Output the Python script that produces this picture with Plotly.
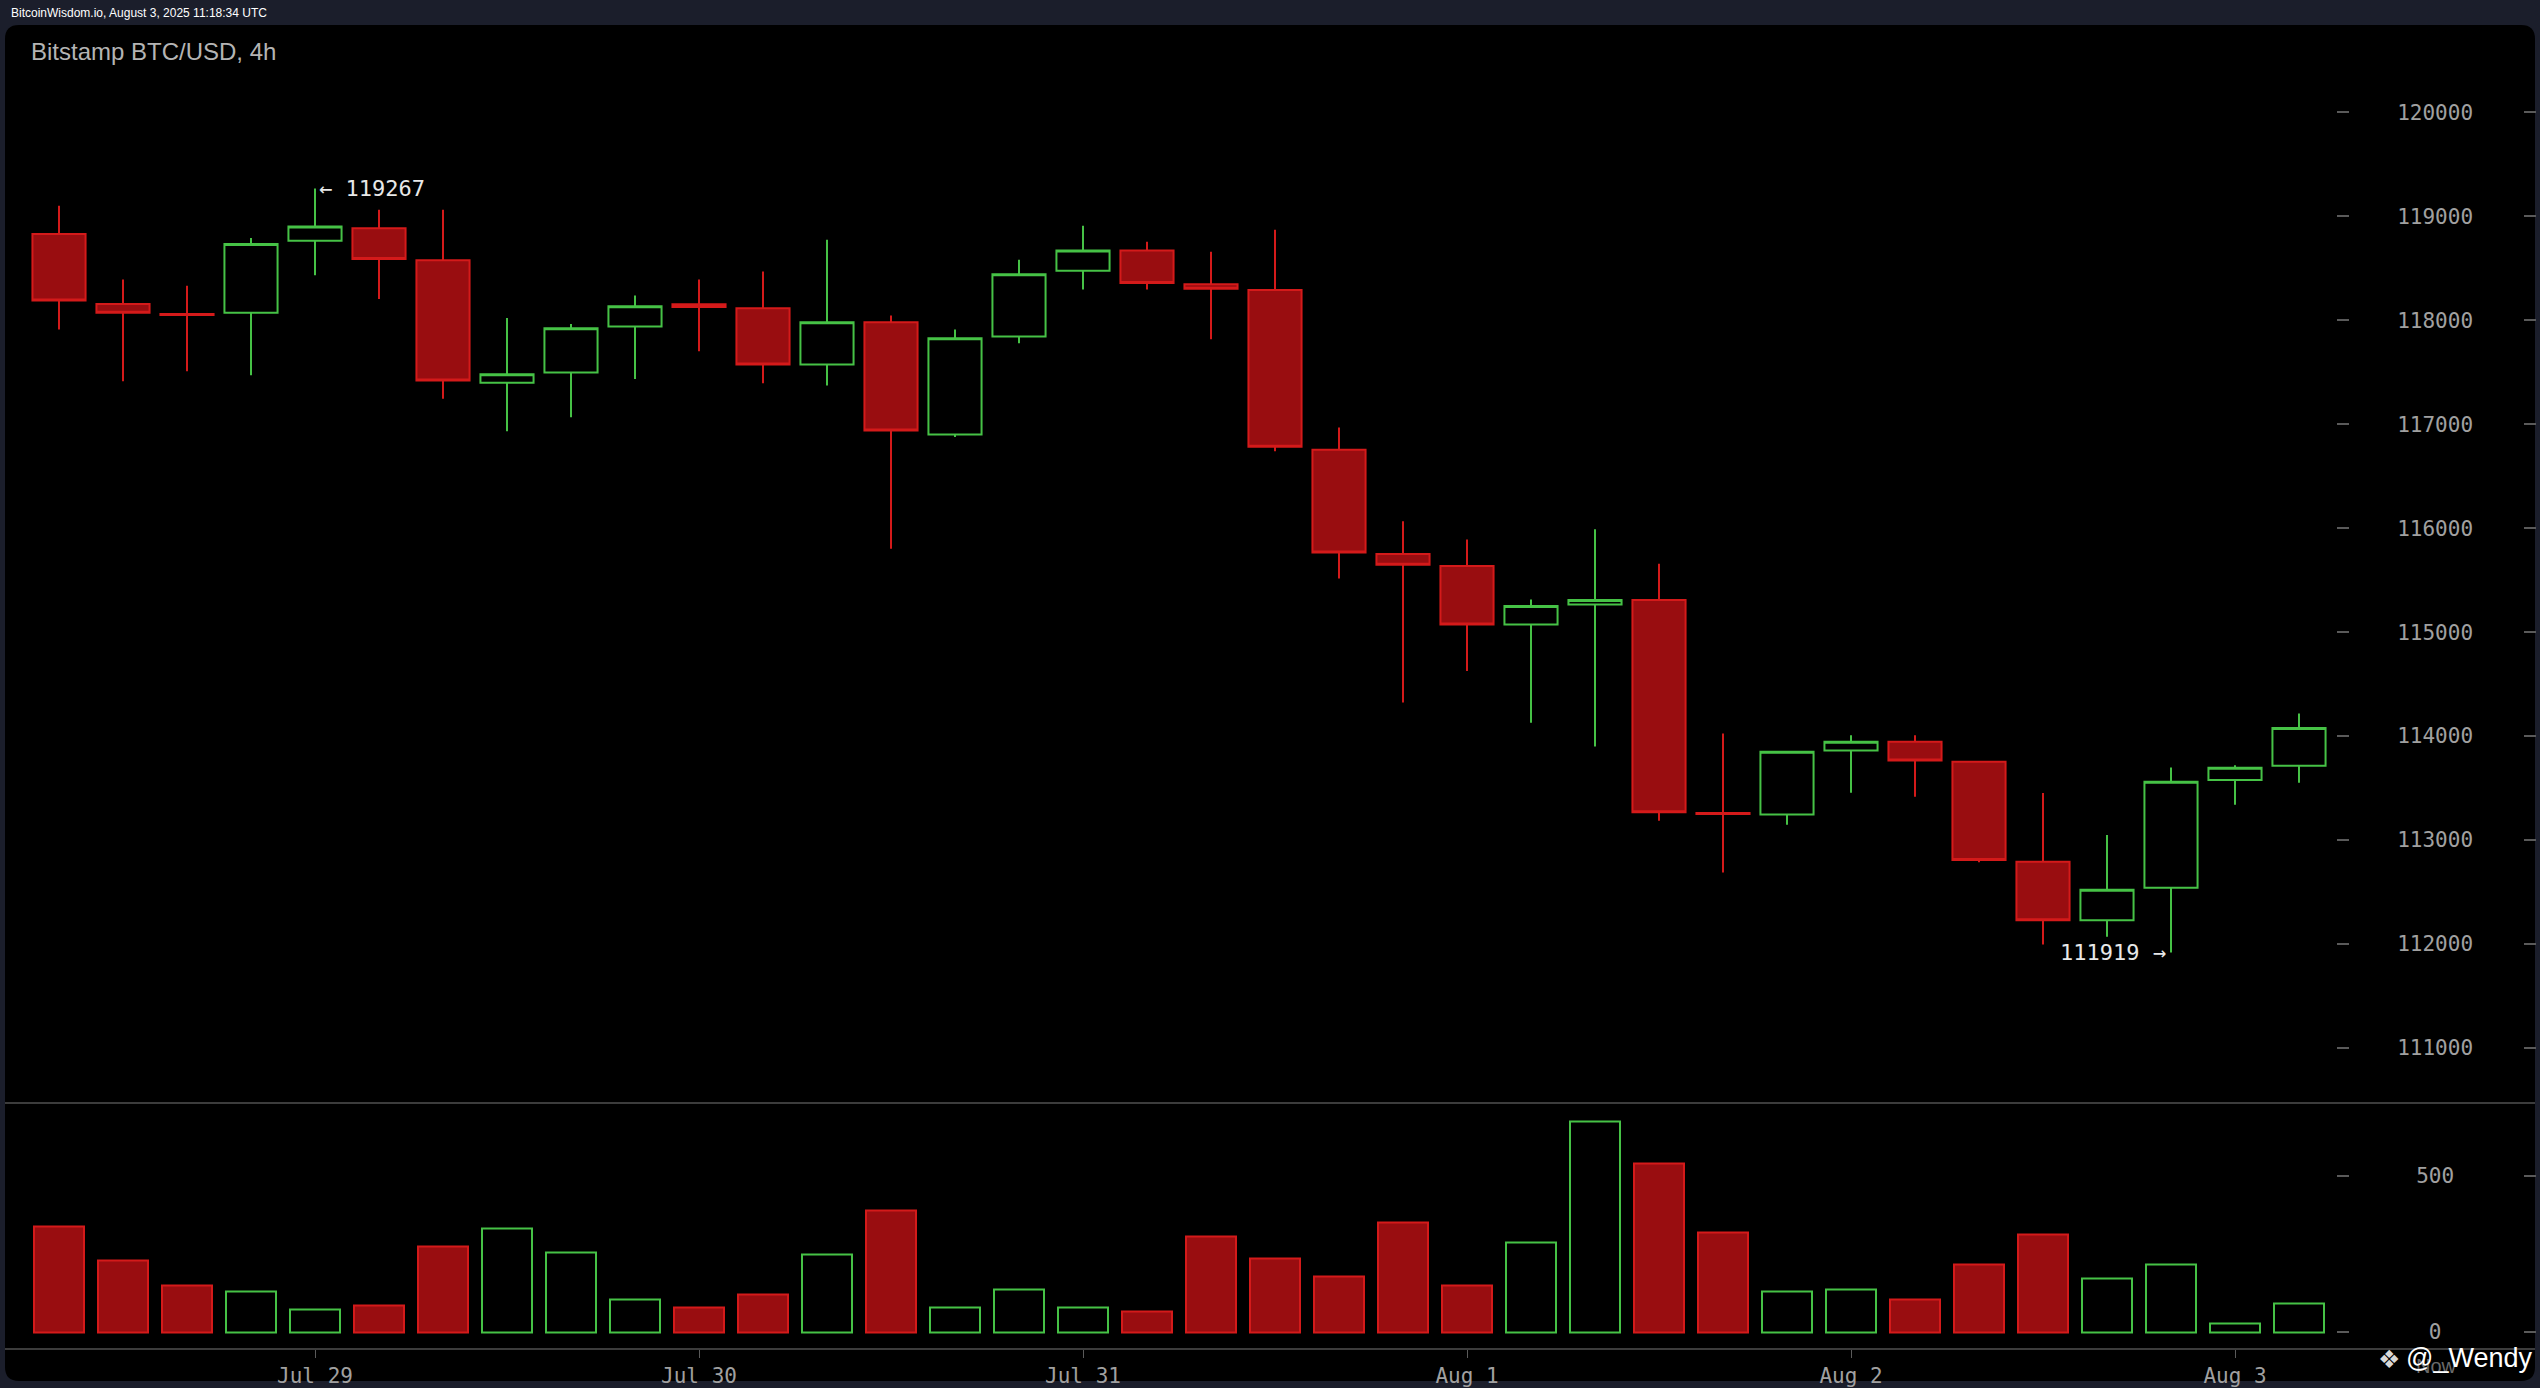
import plotly.graph_objects as go
from datetime import datetime, timedelta

# ---------------- data ----------------
start_time = datetime(2025, 7, 28, 8)      # first 4h candle
candle_hours = 4

opens = [118830, 118157, 118060, 118071, 118765, 118884, 118576, 117398, 117497, 117939,
         118154, 118115, 117574, 117980, 116901, 117843, 118477, 118672, 118346, 118292,
         116754, 115751, 115636, 115073, 115265, 115309, 113260, 113247, 113862, 113945,
         113753, 112792, 112229, 112542, 113577, 113714]
highs = [119102, 118391, 118333, 118791, 119267, 119063, 119063, 118022, 117965, 118237,
         118391, 118468, 118775, 118045, 117910, 118583, 118910, 118756, 118660, 118871,
         116969, 116066, 115890, 115313, 115989, 115659, 114026, 113860, 114009, 114009,
         113760, 113452, 113049, 113699, 113720, 114218]
lows = [117910, 117414, 117510, 117471, 118432, 118205, 117244, 116933, 117068, 117436,
        117702, 117394, 117372, 115803, 116876, 117779, 118297, 118297, 117817, 116741,
        115515, 114324, 114627, 114128, 113901, 113186, 112687, 113148, 113455, 113417,
        112786, 111995, 112071, 111919, 113340, 113551]
closes = [118189, 118071, 118050, 118734, 118903, 118589, 117420, 117481, 117923, 118134,
          118128, 117574, 117980, 116940, 117827, 118442, 118672, 118359, 118304, 116783,
          115765, 115649, 115073, 115252, 115309, 113267, 113250, 113849, 113945, 113766,
          112808, 112229, 112523, 113561, 113695, 114077]
volumes = [338, 230, 148, 129, 72, 84, 274, 331, 255, 103,
           78, 122, 249, 388, 78, 135, 78, 65, 306, 236,
           179, 350, 148, 287, 673, 540, 319, 129, 135, 103,
           217, 312, 173, 217, 27, 91]

price_ticks = [111000, 112000, 113000, 114000, 115000, 116000, 117000, 118000, 119000, 120000]
volume_ticks = [0, 500]
volume_tick_text = ["\u00a00", "500"]
date_ticks = [datetime(2025, 7, 29), datetime(2025, 7, 30), datetime(2025, 7, 31),
              datetime(2025, 8, 1), datetime(2025, 8, 2), datetime(2025, 8, 3)]
date_tick_text = ["Jul 29", "Jul 30", "Jul 31", "Aug 1", "Aug 2", "Aug 3"]

header_text = "BitcoinWisdom.io, August 3, 2025 11:18:34 UTC"
title_text = "Bitstamp BTC/USD, 4h"

# ---------------- styling ----------------
W, H = 2540, 1388
def px(x):
    return x / W
def py(y):
    return 1 - y / H

GREEN = "#46c246"
RED_LINE = "#d41a1a"
RED_FILL = "#990d10"
AXIS_GRAY = "#3c3c3c"
TICK_GRAY = "#5a5a5a"
LABEL_GRAY = "#a0a0a0"
MONO = "DejaVu Sans Mono"
SANS = "Liberation Sans, Arial, sans-serif"

step = timedelta(hours=candle_hours)
times = [start_time + i * step for i in range(len(opens))]
is_up = [c > o for o, c in zip(opens, closes)]

# x range so that one 4h step spans ~64 px and the frame runs from x=5 to x=2535
spacing_px = 64.0
first_center_px = 59.0
x_left = start_time - timedelta(hours=candle_hours * (first_center_px - 5) / spacing_px)
x_right = start_time + timedelta(hours=candle_hours * (2535 - first_center_px) / spacing_px)

# price axis: 120000 at y=112.5 px, 111000 at y=1049.5 px
ppx = (1049.5 - 112.5) / 9000.0
price_top = 120000 + (112.5 - 25) / ppx
price_bottom = 120000 - (1104 - 112.5) / ppx
# volume axis: 0 at y=1334 px, 500 at y=1177.5 px
vpx = (1334 - 1177.5) / 500.0
vol_bottom = -(1350 - 1334) / vpx
vol_top = (1334 - 1104) / vpx

fig = go.Figure()

fig.add_trace(go.Candlestick(
    x=times, open=opens, high=highs, low=lows, close=closes,
    xaxis="x2", yaxis="y",
    increasing=dict(line=dict(color=GREEN, width=2), fillcolor="#000000"),
    decreasing=dict(line=dict(color=RED_LINE, width=2), fillcolor=RED_FILL),
    whiskerwidth=0, showlegend=False, hoverinfo="skip",
))

fig.add_trace(go.Bar(
    x=times, y=volumes, xaxis="x", yaxis="y2",
    width=[0.79 * candle_hours * 3600 * 1000] * len(times),
    marker=dict(color=["#000000" if u else RED_FILL for u in is_up],
                line=dict(color=[GREEN if u else RED_LINE for u in is_up], width=2)),
    showlegend=False, hoverinfo="skip",
))

# invisible helpers so the mirrored tick axes on the far right get drawn
fig.add_trace(go.Scatter(x=times, y=closes, xaxis="x2", yaxis="y3", mode="markers",
                         marker=dict(opacity=0), showlegend=False, hoverinfo="skip"))
fig.add_trace(go.Scatter(x=times, y=volumes, xaxis="x", yaxis="y4", mode="markers",
                         marker=dict(opacity=0), showlegend=False, hoverinfo="skip"))

i_hi = highs.index(max(highs))
i_lo = lows.index(min(lows))

annotations = [
    dict(x=px(9), y=py(13), xref="paper", yref="paper", text=header_text, showarrow=False,
         xanchor="left", yanchor="middle", font=dict(family=SANS, size=12, color="#ffffff")),
    dict(x=px(29), y=py(52), xref="paper", yref="paper", text=title_text, showarrow=False,
         xanchor="left", yanchor="middle", font=dict(family=SANS, size=24, color="#b4b4b4")),
    dict(x=times[i_hi], y=highs[i_hi], xref="x2", yref="y", text="\u2190 %d" % highs[i_hi],
         showarrow=False, xanchor="left", yanchor="middle", xshift=2,
         font=dict(family=MONO, size=22, color="#e8e8e8")),
    dict(x=times[i_lo], y=lows[i_lo], xref="x2", yref="y", text="%d \u2192" % lows[i_lo],
         showarrow=False, xanchor="right", yanchor="middle", xshift=-3,
         font=dict(family=MONO, size=22, color="#e8e8e8")),
    dict(x=px(2436), y=py(1368), xref="paper", yref="paper", text="Now", showarrow=False,
         xanchor="center", yanchor="middle", font=dict(family=SANS, size=20, color="#6a6a6a")),
    dict(x=px(2389), y=py(1361), xref="paper", yref="paper", text="\u2756", showarrow=False,
         xanchor="center", yanchor="middle", font=dict(family="DejaVu Sans", size=25, color="#d8d8d8")),
    dict(x=px(2534), y=py(1360), xref="paper", yref="paper", text="@_Wendy", showarrow=False,
         xanchor="right", yanchor="middle", font=dict(family=SANS, size=27, color="#ffffff")),
]

r = 14
L, T, R, B = 5, 25, 2535, 1383
frame_path = (
    f"M {px(L + r)},{py(T)} L {px(R - r)},{py(T)} Q {px(R)},{py(T)} {px(R)},{py(T + r)} "
    f"L {px(R)},{py(B - r)} Q {px(R)},{py(B)} {px(R - r)},{py(B)} "
    f"L {px(L + r)},{py(B)} Q {px(L)},{py(B)} {px(L)},{py(B - r)} "
    f"L {px(L)},{py(T + r)} Q {px(L)},{py(T)} {px(L + r)},{py(T)} Z"
)

axis_common = dict(showgrid=False, zeroline=False, fixedrange=True)

fig.update_layout(
    width=W, height=H, autosize=False,
    margin=dict(l=0, r=0, t=0, b=0, pad=0),
    paper_bgcolor="#1b1e2b", plot_bgcolor="rgba(0,0,0,0)",
    hovermode=False, showlegend=False, boxgap=0.17, boxgroupgap=0, bargap=0,
    shapes=[dict(type="path", path=frame_path, xref="paper", yref="paper",
                 fillcolor="#000000", line=dict(width=0), layer="below")],
    annotations=annotations,
    xaxis=dict(domain=[px(L), px(R)], anchor="y2", type="date", range=[x_left, x_right],
               tickvals=date_ticks, ticktext=date_tick_text, ticks="outside", ticklen=8,
               tickwidth=1, tickcolor=TICK_GRAY, showline=True, linecolor=AXIS_GRAY, linewidth=2,
               tickfont=dict(family=MONO, size=21, color=LABEL_GRAY),
               rangeslider=dict(visible=False), **axis_common),
    xaxis2=dict(domain=[px(L), px(R)], anchor="y", type="date", matches="x",
                showticklabels=False, ticks="", showline=True, linecolor=AXIS_GRAY, linewidth=2,
                rangeslider=dict(visible=False), **axis_common),
    yaxis=dict(domain=[py(1104), py(T)], range=[price_bottom, price_top], side="right",
               anchor="free", position=px(2336), tickvals=price_ticks,
               ticktext=[str(v) for v in price_ticks], ticks="outside", ticklen=12, tickwidth=2,
               tickcolor=TICK_GRAY, showline=False, ticklabelstandoff=44,
               tickfont=dict(family=MONO, size=21, color=LABEL_GRAY), **axis_common),
    yaxis3=dict(overlaying="y", matches="y", side="left", anchor="free", position=px(2536),
                tickvals=price_ticks, ticks="outside", ticklen=12, tickwidth=2,
                tickcolor=TICK_GRAY, showline=False, showticklabels=False, **axis_common),
    yaxis2=dict(domain=[py(1350), py(1104)], range=[vol_bottom, vol_top], side="right",
                anchor="free", position=px(2336), tickvals=volume_ticks, ticktext=volume_tick_text,
                ticks="outside", ticklen=12, tickwidth=2, tickcolor=TICK_GRAY, showline=False,
                ticklabelstandoff=63, tickfont=dict(family=MONO, size=21, color=LABEL_GRAY),
                **axis_common),
    yaxis4=dict(overlaying="y2", matches="y2", side="left", anchor="free", position=px(2536),
                tickvals=volume_ticks, ticks="outside", ticklen=12, tickwidth=2,
                tickcolor=TICK_GRAY, showline=False, showticklabels=False, **axis_common),
)

fig.write_html(
    "out.html",
    config={"displayModeBar": False},
    post_script="document.documentElement.style.margin='0';document.body.style.margin='0';"
                "document.body.style.overflow='hidden';document.body.style.background='#1b1e2b';",
)
